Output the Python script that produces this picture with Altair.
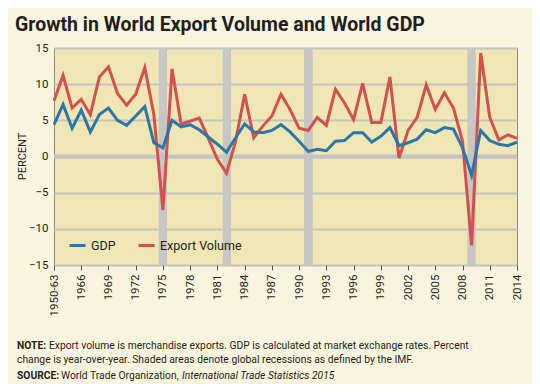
import altair as alt
import pandas as pd

years = [1963, 1964, 1965, 1966, 1967, 1968, 1969, 1970, 1971, 1972,
         1973, 1974, 1975, 1976, 1977, 1978, 1979, 1980, 1981, 1982,
         1983, 1984, 1985, 1986, 1987, 1988, 1989, 1990, 1991, 1992,
         1993, 1994, 1995, 1996, 1997, 1998, 1999, 2000, 2001, 2002,
         2003, 2004, 2005, 2006, 2007, 2008, 2009, 2010, 2011, 2012,
         2013, 2014]
gdp = [4.4, 7.2, 3.9, 6.4, 3.4, 5.8, 6.7, 5.0, 4.3, 5.6,
       6.9, 1.9, 1.2, 5.0, 4.1, 4.4, 3.7, 2.7, 1.7, 0.6,
       2.6, 4.5, 3.4, 3.3, 3.6, 4.4, 3.4, 2.1, 0.7, 1.0,
       0.8, 2.1, 2.2, 3.3, 3.3, 2.0, 2.8, 4.0, 1.5, 1.9,
       2.4, 3.7, 3.3, 4.0, 3.8, 1.2, -2.6, 3.6, 2.2, 1.7,
       1.5, 2.0]
export_volume = [7.7, 11.2, 6.7, 7.9, 5.8, 11.0, 12.4, 8.7, 7.1, 8.6,
                 12.3, 5.8, -7.4, 12.1, 4.5, 4.9, 5.3, 2.5, -0.4, -2.3,
                 2.1, 8.6, 2.6, 4.2, 5.6, 8.6, 6.5, 3.9, 3.6, 5.4,
                 4.3, 9.3, 7.4, 5.1, 10.1, 4.7, 4.7, 11.0, -0.2, 3.6,
                 5.4, 9.9, 6.5, 8.8, 6.7, 2.1, -12.3, 14.3, 5.4, 2.3,
                 3.0, 2.5]
series_names = ["GDP", "Export Volume"]
series_colors = ["#2a77a8", "#d2514d"]

recession_start = [1974.55, 1981.6, 1990.55, 2008.55]
recession_end = [1975.45, 1982.5, 1991.5, 2009.45]

x_ticks = [1963, 1966, 1969, 1972, 1975, 1978, 1981, 1984, 1987, 1990,
           1993, 1996, 1999, 2002, 2005, 2008, 2011, 2014]
y_ticks = [-15, -10, -5, 0, 5, 10, 15]

title_text = "Growth in World Export Volume and World GDP"
y_title = "PERCENT"
note_label = "NOTE:"
note_line1 = "Export volume is merchandise exports. GDP is calculated at market exchange rates. Percent"
note_line2 = "change is year-over-year. Shaded areas denote global recessions as defined by the IMF."
source_label = "SOURCE:"
source_text = "World Trade Organization,"
source_italic = "International Trade Statistics 2015"

FONT = "Roboto"
INK = "#231f20"

df = pd.DataFrame({
    "year": years * 2,
    "series": ["Export Volume"] * len(years) + ["GDP"] * len(years),
    "value": export_volume + gdp,
    "order": [0] * len(years) + [1] * len(years),
})
bands = pd.DataFrame({"start": recession_start, "end": recession_end})

xscale = alt.Scale(domain=[1963, 2014], nice=False, zero=False)
yscale = alt.Scale(domain=[-15, 15], nice=False)

x_axis = alt.Axis(values=x_ticks, tickCount=len(x_ticks), title=None,
                  grid=False, domain=False,
                  ticks=True, tickSize=5, tickColor="#555555", tickWidth=1,
                  labelAngle=-90, labelPadding=4, labelFontSize=11.5,
                  labelOverlap=False, labelColor=INK, labelFont=FONT,
                  labelExpr="datum.value == 1963 ? '1950-63' : '' + datum.value")
y_axis = alt.Axis(values=y_ticks, tickCount=len(y_ticks), title=None, grid=True,
                  gridColor="#c3c3c1", gridWidth=2, domain=False, ticks=False,
                  labelPadding=6, labelFontSize=11.5, labelColor=INK,
                  labelOverlap=False, labelFont=FONT)

band_layer = alt.Chart(bands).mark_rect(color="#c6c6c4").encode(
    x=alt.X("start:Q", scale=xscale, axis=x_axis),
    x2="end:Q",
)

zero_layer = alt.Chart(alt.Data(values=[{"v": 0}])).mark_rule(
    color="#c3c3c1", strokeWidth=4
).encode(y=alt.Y("v:Q", scale=yscale, axis=y_axis))

line_layer = alt.Chart(df).mark_line(strokeWidth=3).encode(
    x=alt.X("year:Q", scale=xscale, axis=x_axis),
    y=alt.Y("value:Q", scale=yscale, axis=y_axis),
    color=alt.Color("series:N",
                    scale=alt.Scale(domain=series_names, range=series_colors),
                    legend=alt.Legend(orient="none", legendX=14, legendY=188,
                                      direction="horizontal", title=None,
                                      symbolType="stroke", symbolStrokeWidth=3,
                                      symbolSize=256, labelFontSize=12.5,
                                      labelFont=FONT, labelColor=INK,
                                      labelOffset=4, columnPadding=16)),
    order=alt.Order("order:Q"),
)

def txt(text, x, y, size=10.3, weight="normal", style="normal", angle=0, align="left"):
    return alt.Chart(alt.Data(values=[{}])).mark_text(
        text=text, align=align, baseline="alphabetic", font=FONT, angle=angle,
        fontSize=size, fontWeight=weight, fontStyle=style, color=INK
    ).encode(x=alt.value(x), y=alt.value(y))

# plot origin is at page (54, 48)
title_layer = txt(title_text, -39, -17, size=19.5, weight="bold")
ytitle_layer = txt(y_title, -28, 108.5, size=11, angle=270, align="center")
n1 = txt(note_label, -37, 301, weight="bold")
n2 = txt(note_line1, -5, 301)
n3 = txt(note_line2, -37, 314.5)
s1 = txt(source_label, -37, 331, weight="bold")
s2 = txt(source_text, 7, 331)
s3 = txt(source_italic, 128, 331, style="italic")

chart = alt.layer(
    band_layer, zero_layer, line_layer, title_layer, ytitle_layer,
    n1, n2, n3, s1, s2, s3
).properties(
    width=463, height=217,
    autosize=alt.AutoSizeParams(type="none"),
    padding={"left": 46, "top": 40, "right": 15, "bottom": 119},
    background="#f9f4de",
).configure_view(
    fill="#efe6b4", stroke="#8c8c8c", strokeWidth=1
)

chart.save("out.html", embed_options={"renderer": "svg", "actions": False})
